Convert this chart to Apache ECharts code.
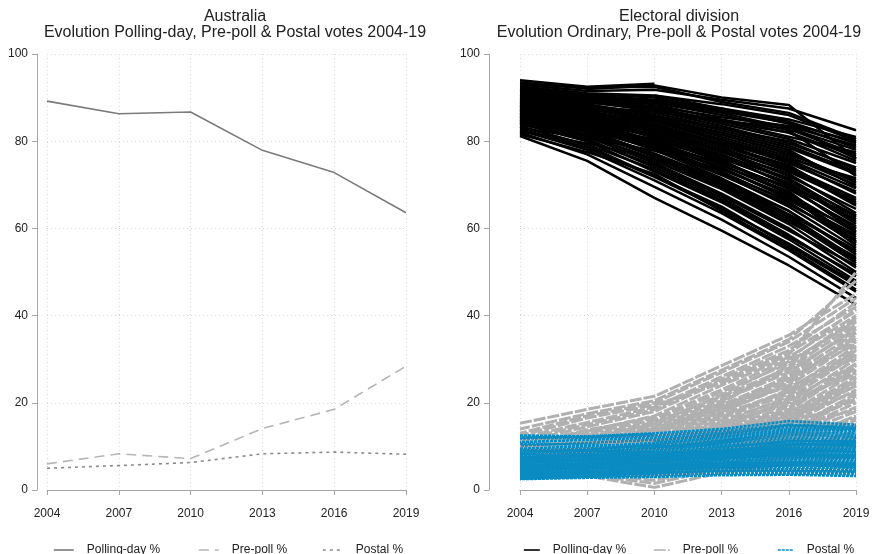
<!DOCTYPE html>
<html>
<head>
<meta charset="utf-8">
<script src="https://cdn.jsdelivr.net/npm/echarts@6/dist/echarts.min.js"></script>
<style>
  html, body { margin: 0; padding: 0; background: #fff; }
  #box { width: 874px; height: 554px; }
</style>
</head>
<body>
<div id="box"></div>
<script>
// election years (x axis)
var years = [2004, 2007, 2010, 2013, 2016, 2019];
var yTicks = [0, 20, 40, 60, 80, 100];

// Australia totals
var ausPolling = [89.2, 86.3, 86.7, 77.9, 72.8, 63.6];
var ausPrepoll = [6.0, 8.3, 7.2, 14.1, 18.5, 28.4];
var ausPostal = [5.0, 5.6, 6.3, 8.3, 8.7, 8.2];

// electoral divisions, one row per division (null = division not contested that year)
var divOrdinary = [
    [94.0, 92.5, 93.2, null, null, null],
    [93.5, 92.0, 92.8, 90.0, 88.3, 76.0],
    [93.0, 91.5, 91.8, 89.5, 87.5, 82.5],
    [92.6, 91.0, 90.5, 88.5, 86.0, 80.0],
    [92.2, 90.8, 90.0, 87.0, 84.5, 79.5],
    [91.8, 90.2, 89.0, 86.5, 83.0, 78.0],
    [91.5, 89.8, 88.5, 85.0, 82.0, 76.5],
    [91.0, 89.5, 87.5, 84.0, 80.5, 75.0],
    [90.7, 89.0, 87.0, 83.5, 79.5, 74.0],
    [90.4, 88.5, 86.0, 82.5, 78.5, 72.5],
    [90.0, 88.2, 85.5, 81.5, 77.0, 71.0],
    [89.8, 87.8, 85.0, 81.0, 76.5, 70.0],
    [89.5, 87.5, 84.5, 80.0, 75.0, 68.5],
    [89.2, 87.0, 84.0, 79.5, 74.0, 67.0],
    [89.0, 86.8, 83.0, 78.5, 73.0, 66.0],
    [88.7, 86.3, 82.5, 78.0, 72.0, 64.5],
    [88.4, 86.0, 82.0, 77.0, 71.0, 63.0],
    [88.0, 85.5, 81.5, 76.5, 70.0, 62.0],
    [87.8, 85.2, 81.0, 75.5, 69.0, 60.5],
    [87.5, 84.8, 80.0, 74.5, 68.0, 59.0],
    [87.2, 84.5, 79.5, 74.0, 67.0, 58.0],
    [87.0, 84.0, 79.0, 73.0, 66.0, 56.5],
    [86.6, 83.5, 78.5, 72.5, 65.0, 55.5],
    [86.3, 83.0, 78.0, 71.5, 64.0, 54.0],
    [86.0, 82.5, 77.0, 70.5, 63.0, 53.0],
    [85.6, 82.0, 76.5, 70.0, 62.0, 52.0],
    [85.2, 81.5, 75.5, 69.0, 61.0, 51.0],
    [84.8, 81.0, 75.0, 68.0, 60.0, 50.0],
    [84.5, 80.5, 74.0, 67.0, 58.5, 49.0],
    [84.0, 80.0, 73.0, 66.0, 57.5, 48.0],
    [83.5, 79.0, 72.0, 65.0, 56.0, 47.0],
    [82.5, 78.0, 71.0, 63.5, 55.0, 45.5],
    [82.0, 77.0, 69.5, 62.0, 53.5, 44.0],
    [81.2, 75.5, 67.0, 59.5, 51.5, 42.5],
    [92.0, 90.5, 89.5, 87.5, 85.0, 81.0],
    [91.2, 90.0, 88.8, 86.0, 82.5, 72.0],
    [90.2, 88.8, 87.8, 84.5, 81.0, 77.5],
    [89.6, 88.0, 86.5, 83.0, 80.0, 73.5],
    [88.9, 87.5, 85.5, 82.0, 78.0, 69.5],
    [88.2, 86.5, 84.5, 80.5, 76.0, 71.5],
    [87.5, 85.8, 83.5, 79.0, 74.5, 65.5],
    [86.8, 85.0, 82.5, 77.5, 72.5, 63.5],
    [86.0, 84.0, 81.5, 76.0, 70.5, 61.0],
    [85.4, 83.2, 80.0, 74.5, 68.5, 57.0],
    [84.6, 82.5, 78.5, 72.5, 66.5, 58.5],
    [83.8, 81.5, 77.0, 71.0, 64.0, 54.5],
    [null, null, 90.5, 87.5, 84.0, 78.5],
    [null, null, null, null, 83.5, 76.0],
    [93.2, 92.3, 92.5, 89.0, 86.5, 80.5],
    [90.8, 89.5, 88.0, 85.5, 83.5, 79.0],
    [89.3, 87.8, 86.8, 84.5, 82.0, 75.5],
    [88.5, 87.2, 85.8, 83.0, 79.0, 73.0],
    [87.6, 86.2, 84.8, 81.5, 77.5, 70.5],
    [86.4, 84.8, 83.0, 79.5, 75.5, 68.0],
    [85.8, 83.8, 81.8, 78.0, 73.5, 66.5],
    [85.0, 83.0, 80.5, 76.5, 71.5, 62.5],
    [84.2, 82.2, 79.5, 75.0, 69.5, 60.0],
    [83.0, 80.8, 77.8, 73.5, 67.5, 56.0],
    [82.3, 79.5, 76.0, 70.5, 62.5, 52.5],
    [81.6, 77.5, 72.5, 64.0, 55.5, 46.0],
    [88.3, 85.0, 80.8, 75.2, 69.2, 62.8],
    [87.3, 84.2, 79.2, 73.8, 66.8, 59.8],
    [86.5, 83.3, 78.2, 72.2, 65.5, 57.5],
    [85.5, 82.3, 77.2, 71.2, 63.2, 55.0],
    [84.9, 81.2, 76.0, 69.5, 61.5, 53.5],
    [84.3, 80.2, 74.5, 67.5, 59.5, 51.5],
    [83.3, 79.2, 73.5, 66.5, 58.0, 49.5],
    [82.8, 78.5, 71.8, 64.5, 56.5, 47.5],
    [89.9, 88.0, 85.2, 80.2, 75.8, 69.2],
    [88.8, 86.6, 83.8, 79.0, 73.8, 65.2],
    [87.9, 85.6, 82.8, 77.8, 71.2, 61.5],
    [86.9, 84.6, 81.2, 76.8, 69.8, 59.2],
    [85.9, 83.6, 80.2, 75.8, 67.8, 56.8],
    [91.6, 90.4, 89.2, 86.8, 84.2, 79.8],
    [90.6, 89.2, 87.2, 84.8, 82.8, 77.0]
];

var divPrepoll = [
    [15.3, 18.5, 21.5, 28.5, 35.5, 45.0],
    [13.0, 17.0, 20.0, 27.0, 34.0, 44.0],
    [12.0, 15.5, 19.0, 26.0, 33.0, 42.0],
    [11.0, 14.5, 18.0, 25.0, 31.5, 41.0],
    [10.5, 13.5, 17.0, 24.0, 30.5, 40.0],
    [10.0, 13.0, 16.0, 22.5, 29.0, 39.5],
    [9.5, 12.5, 15.5, 21.5, 28.0, 38.0],
    [9.0, 12.0, 14.5, 20.5, 27.0, 37.0],
    [8.8, 11.5, 14.0, 19.5, 26.0, 36.0],
    [8.5, 11.0, 13.5, 18.5, 25.0, 35.0],
    [8.2, 10.5, 13.0, 18.0, 24.0, 34.0],
    [8.0, 10.0, 12.5, 17.0, 23.0, 33.0],
    [7.7, 9.8, 12.0, 16.5, 22.0, 32.0],
    [7.4, 9.5, 11.5, 16.0, 21.0, 31.0],
    [7.2, 9.0, 11.0, 15.0, 20.0, 30.0],
    [7.0, 8.8, 10.5, 14.5, 19.0, 29.0],
    [6.8, 8.5, 10.0, 14.0, 18.5, 28.0],
    [6.5, 8.2, 9.5, 13.5, 17.5, 27.0],
    [6.3, 8.0, 9.2, 13.0, 17.0, 26.0],
    [6.0, 7.8, 9.0, 12.5, 16.0, 25.0],
    [5.8, 7.5, 8.5, 12.0, 15.5, 24.0],
    [5.5, 7.2, 8.2, 11.5, 15.0, 23.0],
    [5.3, 7.0, 8.0, 11.0, 14.0, 22.0],
    [5.0, 6.8, 7.5, 10.5, 13.5, 21.0],
    [4.8, 6.5, 7.2, 10.0, 13.0, 20.0],
    [4.5, 6.2, 7.0, 9.5, 12.5, 19.0],
    [4.3, 6.0, 6.5, 9.0, 12.0, 18.0],
    [4.0, 5.7, 6.0, 8.5, 11.0, 17.0],
    [3.8, 5.4, 5.5, 8.0, 10.5, 16.0],
    [3.5, 5.0, 5.0, 7.5, 10.0, 15.0],
    [3.2, 4.5, 4.0, 7.0, 9.0, 13.5],
    [3.0, 4.0, 3.0, 6.0, 8.0, 12.0],
    [2.8, 3.5, 1.5, 5.0, 7.0, 10.0],
    [2.6, 3.2, 0.6, 4.0, 6.0, 8.0],
    [14.0, 17.5, 20.5, 27.5, 34.5, 48.0],
    [11.5, 15.0, 18.5, 25.5, 32.0, 43.0],
    [10.2, 13.8, 16.5, 23.0, 30.0, 41.5],
    [9.2, 12.2, 15.0, 21.0, 27.5, 36.5],
    [8.6, 11.2, 13.8, 19.0, 25.5, 33.5],
    [7.9, 10.2, 12.8, 17.5, 22.5, 30.5],
    [7.3, 9.2, 11.2, 15.5, 19.5, 27.5],
    [6.6, 8.6, 10.2, 13.8, 18.0, 24.5],
    [6.1, 7.9, 9.0, 12.8, 16.5, 22.5],
    [5.6, 7.3, 8.4, 11.8, 15.2, 20.5],
    [5.1, 6.7, 7.6, 10.8, 14.2, 18.5],
    [4.6, 6.1, 6.8, 9.8, 12.2, 16.5],
    [4.1, 5.6, 5.8, 8.8, 11.5, 14.5],
    [3.6, 4.8, 4.5, 7.8, 9.5, 12.5],
    [3.0, 3.8, 2.2, 5.5, 7.5, 11.0],
    [null, null, null, 18.0, 26.5, 37.5],
    [9.8, 13.2, 16.8, null, null, null],
    [12.5, 16.5, 19.5, 24.5, 31.0, 50.0],
    [8.3, 10.8, 13.2, 20.0, 28.5, 39.0],
    [6.9, 9.3, 11.8, 17.8, 24.5, 35.5],
    [5.9, 7.6, 9.6, 15.2, 21.5, 32.5],
    [4.9, 6.4, 8.8, 13.2, 18.2, 28.5],
    [4.4, 5.8, 7.8, 11.2, 16.2, 25.5],
    [3.4, 4.6, 6.2, 9.2, 13.2, 21.5],
    [7.5, 10.6, 14.2, 19.8, 23.5, 31.5],
    [5.4, 7.1, 10.6, 14.8, 20.5, 26.5],
    [8.9, 11.8, 15.2, 21.8, 29.5, 38.5],
    [7.8, 10.4, 13.6, 18.8, 25.8, 34.5],
    [6.7, 8.9, 11.5, 16.8, 22.8, 30.8],
    [5.7, 7.4, 10.2, 14.2, 20.8, 28.8],
    [4.7, 6.3, 8.4, 12.2, 17.2, 23.8]
];

var divPostal = [
    [12.5, 12.3, 13.0, 14.0, 15.8, 15.0],
    [11.8, 12.0, 12.5, 13.5, 15.0, 14.5],
    [11.0, 11.5, 12.0, 13.0, 14.5, 14.0],
    [10.2, 10.8, 11.5, 12.5, 14.0, 13.5],
    [9.5, 10.0, 10.8, 12.0, 13.2, 13.0],
    [9.0, 9.5, 10.2, 11.5, 12.5, 12.5],
    [8.5, 9.0, 9.8, 11.0, 12.0, 12.0],
    [8.2, 8.6, 9.4, 10.5, 11.5, 11.5],
    [7.8, 8.2, 9.0, 10.0, 11.0, 11.0],
    [7.5, 7.9, 8.6, 9.6, 10.5, 10.5],
    [7.2, 7.6, 8.2, 9.2, 10.0, 10.0],
    [6.9, 7.3, 7.9, 8.8, 9.6, 9.5],
    [6.6, 7.0, 7.6, 8.4, 9.2, 9.0],
    [6.3, 6.7, 7.3, 8.0, 8.8, 8.6],
    [6.0, 6.4, 7.0, 7.6, 8.4, 8.2],
    [5.7, 6.1, 6.7, 7.2, 8.0, 7.8],
    [5.4, 5.8, 6.4, 6.9, 7.6, 7.4],
    [5.1, 5.5, 6.1, 6.6, 7.2, 7.0],
    [4.8, 5.2, 5.8, 6.3, 6.8, 6.6],
    [4.5, 4.9, 5.5, 6.0, 6.4, 6.2],
    [4.2, 4.6, 5.2, 5.7, 6.0, 5.8],
    [3.9, 4.3, 4.9, 5.4, 5.6, 5.4],
    [3.6, 4.0, 4.6, 5.1, 5.2, 5.0],
    [3.3, 3.7, 4.3, 4.8, 4.8, 4.6],
    [3.0, 3.4, 4.0, 4.4, 4.4, 4.2],
    [2.7, 3.1, 3.4, 3.8, 3.8, 3.6],
    [2.5, 2.8, 3.0, 3.4, 3.5, 3.2],
    [8.8, 9.2, 10.5, 12.2, 13.8, 13.8],
    [7.0, 7.8, 8.8, 10.8, 12.8, 12.2],
    [6.2, 7.0, 8.0, 9.8, 11.2, 11.2],
    [5.5, 6.2, 7.2, 8.6, 9.8, 9.8],
    [4.9, 5.6, 6.5, 7.8, 9.0, 8.8],
    [4.3, 4.8, 5.6, 7.0, 8.2, 8.0],
    [3.7, 4.2, 5.0, 6.2, 7.4, 7.2],
    [3.2, 3.6, 4.4, 5.6, 6.6, 6.4],
    [2.9, 3.3, 3.8, 4.8, 5.8, 5.6],
    [8.0, 8.0, 8.4, 9.0, 9.4, 9.2],
    [6.7, 6.8, 7.0, 7.4, 7.9, 7.6],
    [5.3, 5.4, 5.6, 5.9, 6.2, 6.0],
    [4.0, 4.1, 4.2, 4.5, 4.7, 4.4],
    [10.6, 10.4, 10.0, 10.2, 10.6, 10.2],
    [9.2, 9.0, 8.6, 8.8, 9.2, 8.8],
    [5.9, 6.6, 7.5, 8.2, 10.2, 10.8],
    [4.6, 5.3, 6.8, 7.7, 8.6, 9.4],
    [3.5, 3.9, 4.7, 5.3, 6.0, 5.2],
    [null, null, 11.2, 12.8, 14.8, 14.2],
    [12.0, 12.2, 12.8, null, null, null],
    [7.4, 8.5, 9.6, 11.3, 13.4, 12.8],
    [6.4, 6.9, 7.7, 8.9, 10.4, 10.8],
    [2.6, 3.0, 3.6, 4.1, 4.1, 3.9]
];

window.onload = function () {
    var charts = echarts.init(document.getElementById('box'));
    var font = 'Liberation Sans, Arial, sans-serif';
    var gridCol = '#d9d9d9';
    var axisCol = '#a6a6a6';

    function pairs(vals) {
        var out = [];
        years.forEach(function (y, i) {
            if (vals[i] !== null) out.push([y, vals[i]]);
        });
        return out;
    }

    function xAxis(idx) {
        return {
            type: 'value', gridIndex: idx, min: 2004, max: 2019, interval: 3,
            offset: 10,
            axisLine: { show: true, lineStyle: { color: axisCol, width: 1 } },
            axisTick: { show: true, length: 5, lineStyle: { color: axisCol } },
            axisLabel: {
                color: '#222', fontSize: 12, fontFamily: font, margin: 8,
                formatter: function (v) { return String(v); }
            },
            splitLine: { show: true, lineStyle: { color: gridCol, type: [1, 3] } }
        };
    }
    function yAxis(idx, off) {
        return {
            type: 'value', gridIndex: idx, min: 0, max: 100, interval: 20,
            offset: off,
            axisLine: { show: true, lineStyle: { color: axisCol, width: 1 } },
            axisTick: { show: true, length: 5, lineStyle: { color: axisCol } },
            axisLabel: { color: '#222', fontSize: 12, fontFamily: font, margin: 9 },
            splitLine: { show: true, lineStyle: { color: gridCol, type: [1, 3] } }
        };
    }

    function line(name, idx, vals, color, width, type, z, dashOff) {
        return {
            type: 'line', name: name, xAxisIndex: idx, yAxisIndex: idx,
            data: pairs(vals), showSymbol: false, symbol: 'none',
            lineStyle: { color: color, width: width, type: type, dashOffset: dashOff || 0 },
            itemStyle: { color: color },
            emphasis: { disabled: true }, silent: true, z: z
        };
    }

    var series = [
        line('Polling-day %', 0, ausPolling, '#7a7a7a', 1.6, 'solid', 2),
        line('Pre-poll %', 0, ausPrepoll, '#b5b5b5', 1.6, [10, 6], 2),
        line('Postal %', 0, ausPostal, '#8a8a8a', 1.6, [3, 4], 2)
    ];
    divOrdinary.forEach(function (r) {
        series.push(line('Polling-day % (div)', 1, r, '#000000', 2.5, 'solid', 2));
    });
    divPrepoll.forEach(function (r, i) {
        series.push(line('Pre-poll % (div)', 1, r, '#b0b0b0', 3, [12, 2], 3, (i * 5) % 14));
    });
    divPostal.forEach(function (r, i) {
        series.push(line('Postal % (div)', 1, r, '#0a8cc2', 2.6, [3, 1], 4, i % 4));
    });

    function legend(name, left, w, lw) {
        return {
            data: [name], left: left, top: 539, itemWidth: w, itemHeight: 14,
            formatter: function (n) { return n.replace(' (div)', ''); },
            itemStyle: { opacity: 0 },
            lineStyle: { width: lw, dashOffset: 0 },
            textStyle: { color: '#222', fontSize: 12, fontFamily: font, padding: [0, 0, 0, 8] },
            selectedMode: false
        };
    }

    var option = {
        animation: false,
        title: [
            {
                text: 'Australia\nEvolution Polling-day, Pre-poll & Postal votes 2004-19',
                left: 230, top: 4, textAlign: 'center',
                textStyle: { color: '#222', fontSize: 16, fontWeight: 'normal', fontFamily: font, lineHeight: 16 }
            },
            {
                text: 'Electoral division\nEvolution Ordinary, Pre-poll & Postal votes 2004-19',
                left: 674, top: 4, textAlign: 'center',
                textStyle: { color: '#222', fontSize: 16, fontWeight: 'normal', fontFamily: font, lineHeight: 16 }
            }
        ],
        legend: [
            legend('Polling-day %', 48, 20, 1.6),
            legend('Pre-poll %', 193, 20, 1.6),
            legend('Postal %', 317, 20, 1.6),
            legend('Polling-day % (div)', 518, 16, 1.6),
            legend('Pre-poll % (div)', 648, 16, 1.6),
            legend('Postal % (div)', 772, 16, 1.6)
        ],
        grid: [
            { left: 47, right: 468, top: 54, bottom: 64 },
            { left: 520, right: 18, top: 54, bottom: 64 }
        ],
        xAxis: [xAxis(0), xAxis(1)],
        yAxis: [yAxis(0, 10), yAxis(1, 31)],
        series: series
    };

    charts.setOption(option);
};
</script>
</body>
</html>
